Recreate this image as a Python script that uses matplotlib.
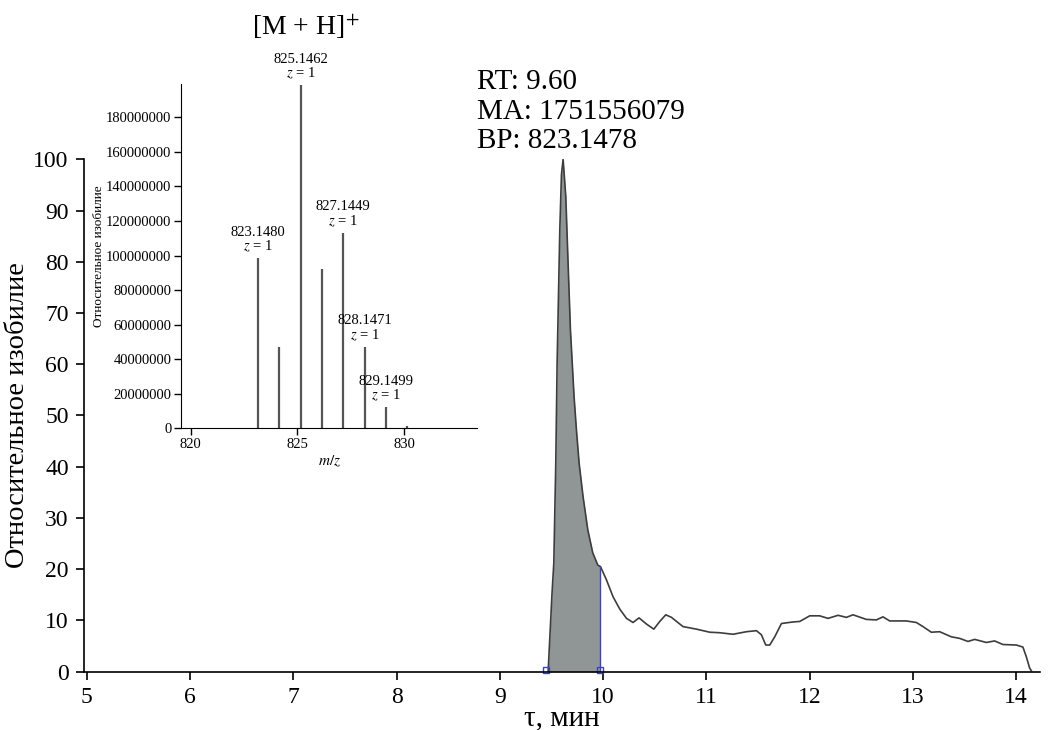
import numpy as np
import matplotlib
matplotlib.use("Agg")
import matplotlib.pyplot as plt

plt.rcParams['font.family'] = ['Liberation Serif', 'DejaVu Serif']
plt.rcParams['mathtext.fontset'] = 'stix'

# chromatogram (time, min / relative abundance, %)
rt = [9.468, 9.506, 9.523, 9.542, 9.555, 9.581, 9.597, 9.613, 9.639, 9.661,
      9.684, 9.719, 9.742, 9.768, 9.806, 9.852, 9.900, 9.949, 9.975, 10.033,
      10.097, 10.162, 10.227, 10.290, 10.348, 10.420, 10.491, 10.549, 10.607, 10.662,
      10.774, 10.904, 11.033, 11.130, 11.258, 11.388, 11.485, 11.533, 11.575, 11.614,
      11.662, 11.727, 11.839, 11.904, 12.001, 12.097, 12.178, 12.275, 12.356, 12.420,
      12.549, 12.646, 12.710, 12.775, 12.936, 13.033, 13.097, 13.178, 13.259, 13.372,
      13.452, 13.533, 13.598, 13.711, 13.791, 13.871, 14.001, 14.065, 14.098, 14.130,
      14.146]
abund = [0.0, 15.4, 21.2, 40.7, 60.2, 86.2, 97.0, 100.0, 92.7, 79.8,
         66.7, 53.7, 47.2, 40.7, 34.2, 27.7, 23.2, 20.8, 20.5, 17.9,
         14.6, 12.2, 10.4, 9.6, 10.5, 9.3, 8.3, 9.8, 11.1, 10.6,
         8.8, 8.3, 7.7, 7.6, 7.3, 7.8, 8.0, 7.2, 5.2, 5.2,
         6.8, 9.4, 9.7, 9.8, 10.9, 10.9, 10.4, 11.0, 10.6, 11.1,
         10.2, 10.1, 10.7, 9.9, 9.9, 9.6, 8.8, 7.7, 7.8, 6.8,
         6.5, 5.9, 6.3, 5.7, 6.0, 5.3, 5.2, 4.8, 2.9, 0.7,
         0.2]
peak_start = 9.45
peak_end = 9.975

# mass spectrum inset
mz = [823.1480, 824.15, 825.1462, 826.15, 827.1449, 828.1471, 829.1499, 830.15]
inten = [98.4e6, 47.2e6, 198.7e6, 92.0e6, 113.2e6, 47.2e6, 12.2e6, 1.5e6]
labelled = ['823.1480', None, '825.1462', None, '827.1449', '828.1471', '829.1499', None]

rt = np.array(rt)
abund = np.array(abund)

fig = plt.figure(figsize=(10.51, 7.30), dpi=100)
ax = fig.add_axes([0.0799, 0.0799, 0.9096, 0.7019])

mask = (rt >= peak_start) & (rt <= peak_end)
fx = np.concatenate([[peak_start], rt[mask]])
fy = np.concatenate([[0.0], abund[mask]])
ax.fill_between(fx, 0, fy, color='#8f9695', lw=0)
ax.plot(rt, abund, color='#3d3d3d', lw=1.2)
ax.plot([peak_end, peak_end], [0, np.interp(peak_end, rt, abund)], color='#3a44c0', lw=1.0)
ax.plot([peak_start, peak_end], [0.4, 0.4], ls='none', marker='s', ms=5,
        mfc='none', mec='#3a44c0', mew=1.0, clip_on=False)

ax.set_xlim(4.974, 14.23)
ax.set_ylim(0, 100)
ax.set_xticks(range(5, 15))
ax.set_yticks(range(0, 101, 10))
for s in ['top', 'right']:
    ax.spines[s].set_visible(False)
for s in ['left', 'bottom']:
    ax.spines[s].set_linewidth(1.2)
ax.tick_params(labelsize=17, length=6, width=1.2, pad=5)
ax.set_xlabel('τ, мин', fontsize=21, labelpad=-2)
ax.set_ylabel('Относительное изобилие', fontsize=20.5)
ax.yaxis.set_label_coords(-0.056, 0.5)

ax.text(8.78, 101, 'RT: 9.60\nMA: 1751556079\nBP: 823.1478', fontsize=21,
        ha='left', va='bottom', linespacing=1.17)

# inset
ins = fig.add_axes([0.1725, 0.4133, 0.2816, 0.4716])
ins.patch.set_alpha(0)
ins.vlines(mz, 0, inten, color='#555555', lw=1.6)
for m, v, lab in zip(mz, inten, labelled):
    if lab:
        ins.annotate(lab + '\n$z$ = 1', (m, v), xytext=(0, 3), textcoords='offset points',
                     ha='center', va='bottom', fontsize=10.5, linespacing=1.0)
ins.set_xlim(819.56, 833.42)
ins.set_ylim(0, 199.3e6)
ins.set_xticks([820, 825, 830])
ins.set_yticks(np.arange(0, 180e6 + 1, 20e6))
ins.set_yticklabels([str(int(v)) for v in np.arange(0, 180e6 + 1, 20e6)])
for s in ['top', 'right']:
    ins.spines[s].set_visible(False)
ins.tick_params(labelsize=10.5, length=5, width=1.0, pad=2)
ins.set_xlabel('$m/z$', fontsize=11, labelpad=2)
ins.set_ylabel('Относительное изобилие', fontsize=9.5, labelpad=1)

fig.text(0.291, 0.952, '[M + H]$^{+}$', fontsize=20, ha='center', va='baseline')

fig.savefig('out.png', dpi=100)
